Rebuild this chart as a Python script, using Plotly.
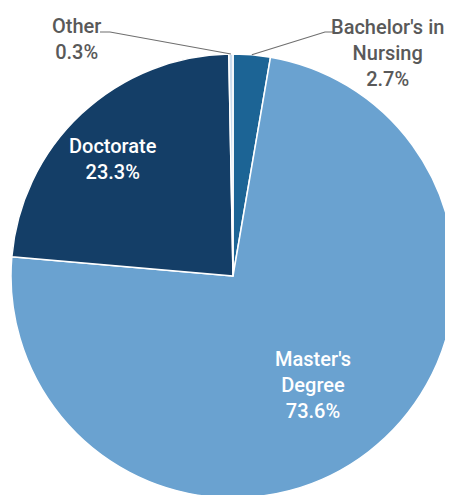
import math
import plotly.graph_objects as go

# Slice data, clockwise from 12 o'clock
labels = ["Bachelor's in Nursing", "Master's Degree", "Doctorate", "Other"]
values = [2.7, 73.6, 23.3, 0.3]
colors = ["#1c6495", "#6aa2d0", "#143e67", "#c8dbee"]
label_text = [
    "Bachelor's in<br>Nursing<br>2.7%",
    "Master's<br>Degree<br>73.6%",
    "Doctorate<br>23.3%",
    "Other<br>0.3%",
]

# page body has an 8px margin, so coords are shifted by it
OFF = 8
W, H = 453, 495
CX, CY, R = 233 - OFF, 276 - OFF, 222  # pie centre / radius in px (from top-left)
FONT = "Roboto, Lato, sans-serif"
GREY = "#595959"

fig = go.Figure()
fig.add_trace(
    go.Pie(
        labels=labels,
        values=values,
        textinfo="none",
        sort=False,
        direction="clockwise",
        rotation=0,
        marker=dict(colors=colors, line=dict(color="white", width=1.5)),
        domain=dict(x=[(CX - R) / W, (CX + R) / W], y=[(H - CY - R) / H, (H - CY + R) / H]),
        hoverinfo="label+percent",
        showlegend=False,
    )
)


def rim_point(idx):
    """Pixel point on the rim at the middle angle of slice idx."""
    total = sum(values)
    start = sum(values[:idx])
    ang = 2 * math.pi * (start + values[idx] / 2) / total
    return CX + R * math.sin(ang), CY - R * math.cos(ang)


def px(x, y):
    return (x - OFF) / W, 1 - (y - OFF) / H


shapes = []
annotations = []

# inside labels (white), screen px centres
inside = {1: (313, 385), 2: (113, 159)}
for idx, (lx, ly) in inside.items():
    x, y = px(lx, ly)
    annotations.append(dict(x=x, y=y, xref="paper", yref="paper", text=label_text[idx],
                            showarrow=False, xanchor="center", yanchor="middle",
                            font=dict(family=FONT, size=20, color="white", weight=500)))

# outside labels with elbow leader lines (screen px)
outside = {
    0: dict(x=387, y=53, start=(333, 32), elbow=(325, 32)),
    3: dict(x=76, y=39, start=(100, 32), elbow=(110, 32)),
}
for idx, lp in outside.items():
    ex, ey = rim_point(idx)
    pts = [px(*lp["start"]), px(*lp["elbow"]), px(ex + OFF, ey + OFF)]
    path = "M " + " L ".join(f"{x},{y}" for x, y in pts)
    shapes.append(dict(type="path", xref="paper", yref="paper", path=path,
                       line=dict(color="#6f6f6f", width=1.2)))
    x, y = px(lp["x"], lp["y"])
    annotations.append(dict(x=x, y=y, xref="paper", yref="paper", text=label_text[idx],
                            showarrow=False, xanchor="center", yanchor="middle",
                            align="center",
                            font=dict(family=FONT, size=20, color=GREY, weight=500)))

fig.update_layout(
    width=W,
    height=H,
    margin=dict(l=0, r=0, t=0, b=0),
    paper_bgcolor="white",
    plot_bgcolor="white",
    shapes=shapes,
    annotations=annotations,
)

fig.write_html("out.html")
